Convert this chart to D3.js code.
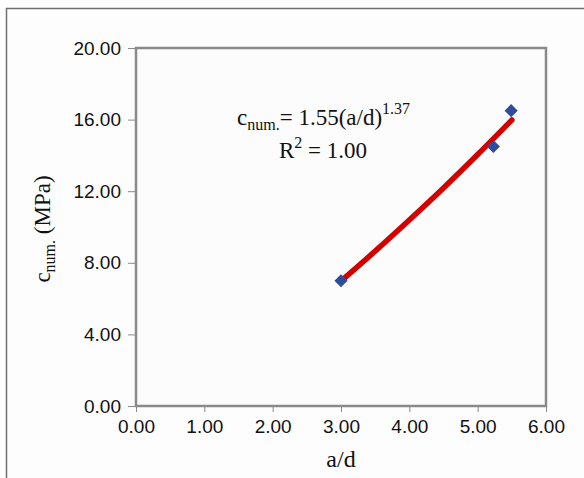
<!DOCTYPE html>
<html lang="en">
<head>
  <meta charset="UTF-8">
  <title>c_num vs a/d</title>
  <style>
    body { margin: 0; padding: 0; background: #fff; }
    svg { display: block; }
    .tick text { font-family: 'Liberation Sans', Arial, sans-serif; font-size: 19px; fill: #111; }
    .serif { font-family: 'Liberation Serif', 'Times New Roman', serif; fill: #111; }
  </style>
</head>
<body>
  <svg width="584" height="478"></svg>

  <script src="https://d3js.org/d3.v7.min.js"></script>
  <script>
    // measured points
    const adValues = [3.00, 5.23, 5.49];
    const cNumValues = [7.00, 14.50, 16.50];

    // power trendline
    const trendAd = [3.00, 3.50, 4.00, 4.50, 5.00, 5.50];
    const trendC = [6.98, 8.65, 10.39, 12.18, 14.05, 15.98];

    const xTicks = [0, 1, 2, 3, 4, 5, 6];
    const yTicks = [0, 4, 8, 12, 16, 20];

    const svg = d3.select("svg");
    const W = 584, H = 478;

    // page background + outer frame
    svg.append("rect").attr("width", W).attr("height", H).attr("fill", "#fdfdfd");
    svg.append("path")
      .attr("d", `M6.5,${H}V8.5H${W}`)
      .attr("fill", "none").attr("stroke", "#6f6f6f").attr("stroke-width", 1.5);

    const plotL = 136, plotR = 546, plotT = 48, plotB = 406;

    const x = d3.scaleLinear().domain([0, 6]).range([plotL, plotR]);
    const y = d3.scaleLinear().domain([0, 20]).range([plotB, plotT]);

    // plot area
    svg.append("rect")
      .attr("x", plotL).attr("y", plotT)
      .attr("width", plotR - plotL).attr("height", plotB - plotT)
      .attr("fill", "#fcfcfc")
      .attr("stroke", "#8a8a8a").attr("stroke-width", 2.5);

    const xAxis = svg.append("g")
      .attr("transform", `translate(0,${plotB})`)
      .call(d3.axisBottom(x).tickValues(xTicks).tickFormat(d3.format(".2f")).tickSize(6).tickPadding(8));
    xAxis.select(".domain").remove();
    xAxis.selectAll(".tick line").attr("stroke", "#8a8a8a");

    const yAxis = svg.append("g")
      .attr("transform", `translate(${plotL},0)`)
      .call(d3.axisLeft(y).tickValues(yTicks).tickFormat(d3.format(".2f")).tickSize(8).tickPadding(7));
    yAxis.select(".domain").remove();
    yAxis.selectAll(".tick line").attr("stroke", "#8a8a8a");

    // trendline
    const line = d3.line()
      .x(d => x(d[0]))
      .y(d => y(d[1]))
      .curve(d3.curveMonotoneX);
    svg.append("path")
      .datum(d3.zip(trendAd, trendC))
      .attr("d", line)
      .attr("fill", "none")
      .attr("stroke", "#d40000")
      .attr("stroke-width", 5.5)
      .attr("stroke-linecap", "round");

    // diamond markers
    const diamond = d3.symbol().type(d3.symbolDiamond2).size(110);
    svg.selectAll(".pt")
      .data(d3.zip(adValues, cNumValues))
      .enter().append("path")
      .attr("class", "pt")
      .attr("transform", d => `translate(${x(d[0])},${y(d[1])})`)
      .attr("d", diamond)
      .attr("fill", "#2f4b9c");

    // equation
    const eq = svg.append("text").attr("class", "serif")
      .attr("x", 237).attr("y", 125).attr("font-size", 23);
    eq.append("tspan").text("c");
    eq.append("tspan").attr("font-size", 16).attr("dy", 5).text("num.");
    eq.append("tspan").attr("dy", -5).text("= 1.55(a/d)");
    eq.append("tspan").attr("font-size", 16).attr("dy", -11).text("1.37");

    const r2 = svg.append("text").attr("class", "serif")
      .attr("x", 279).attr("y", 158).attr("font-size", 23);
    r2.append("tspan").text("R");
    r2.append("tspan").attr("font-size", 16).attr("dy", -10).text("2");
    r2.append("tspan").attr("dy", 10).text(" = 1.00");

    // axis titles
    svg.append("text").attr("class", "serif")
      .attr("x", x(3)).attr("y", 467)
      .attr("text-anchor", "middle").attr("font-size", 24)
      .text("a/d");

    const yt = svg.append("text").attr("class", "serif")
      .attr("transform", "translate(50,229) rotate(-90)")
      .attr("text-anchor", "middle").attr("font-size", 23);
    yt.append("tspan").text("c");
    yt.append("tspan").attr("font-size", 16).attr("dy", 5).text("num.");
    yt.append("tspan").attr("dy", -5).text(" (MPa)");
  </script>
</body>
</html>
